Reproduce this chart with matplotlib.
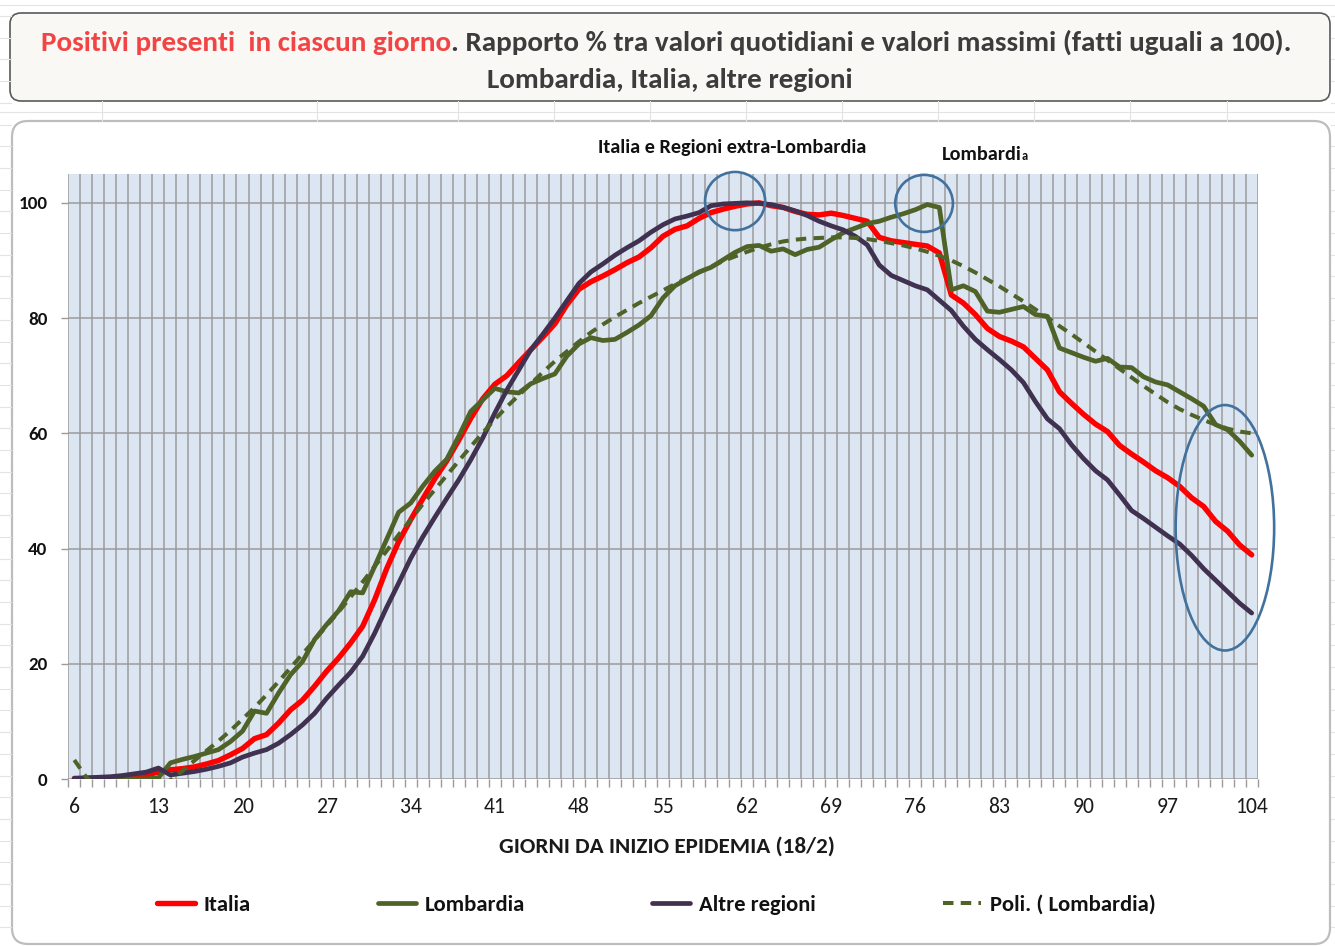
import matplotlib
matplotlib.use('Agg')
import matplotlib.pyplot as plt
from matplotlib import font_manager
from matplotlib.patches import FancyBboxPatch, Ellipse
from matplotlib.lines import Line2D
from matplotlib.transforms import IdentityTransform

# ---------------- data ----------------
days = list(range(6, 105))
italia = [0.1, 0.1, 0.2, 0.2, 0.3, 0.4, 0.7, 1.2, 1.6, 1.8,
          2.1, 2.6, 3.2, 4.2, 5.3, 7.0, 7.7, 9.7, 12.0, 13.7,
          16.1, 18.7, 21.0, 23.6, 26.5, 31.1, 36.5, 41.2, 45.0, 48.6,
          52.1, 55.2, 58.8, 62.6, 66.0, 68.5, 70.0, 72.3, 74.5, 76.7,
          79.0, 82.3, 85.0, 86.3, 87.3, 88.4, 89.6, 90.6, 92.2, 94.2,
          95.4, 96.0, 97.3, 98.3, 98.9, 99.4, 99.8, 100.0, 99.5, 99.2,
          98.5, 98.0, 97.9, 98.2, 97.8, 97.3, 96.8, 94.0, 93.4, 93.1,
          92.8, 92.5, 91.3, 84.0, 82.6, 80.6, 78.2, 76.8, 76.0, 75.0,
          73.0, 71.0, 67.2, 65.2, 63.3, 61.6, 60.3, 57.9, 56.4, 55.0,
          53.5, 52.3, 50.8, 48.8, 47.3, 44.7, 43.0, 40.6, 38.9]
lombardia = [0.0, 0.0, 0.0, 0.0, 0.0, 0.0, 0.0, 0.2, 2.8, 3.4,
             3.9, 4.5, 5.1, 6.5, 8.3, 11.8, 11.4, 14.9, 18.1, 20.4,
             24.2, 26.8, 29.2, 32.5, 32.3, 36.9, 41.6, 46.3, 47.9, 50.8,
             53.4, 55.5, 59.5, 63.8, 65.8, 67.8, 67.2, 67.0, 68.6, 69.5,
             70.3, 73.4, 75.5, 76.6, 76.1, 76.3, 77.5, 78.8, 80.4, 83.5,
             85.6, 86.8, 88.0, 88.8, 90.1, 91.4, 92.4, 92.6, 91.6, 92.0,
             91.0, 91.9, 92.3, 93.6, 94.8, 95.6, 96.4, 96.8, 97.5, 98.1,
             98.8, 99.7, 99.2, 84.9, 85.6, 84.6, 81.2, 81.0, 81.5, 82.0,
             80.6, 80.3, 74.8, 74.0, 73.2, 72.5, 73.0, 71.5, 71.4, 69.8,
             68.9, 68.4, 67.2, 66.0, 64.7, 61.5, 60.6, 58.6, 56.2]
altre_regioni = [0.1, 0.2, 0.3, 0.4, 0.6, 0.9, 1.2, 1.9, 0.7, 1.0,
                 1.3, 1.7, 2.2, 2.8, 3.8, 4.5, 5.1, 6.2, 7.7, 9.4,
                 11.4, 14.0, 16.3, 18.5, 21.3, 25.3, 29.8, 34.0, 38.3, 42.0,
                 45.4, 48.7, 51.9, 55.4, 59.2, 63.5, 67.5, 71.0, 74.5, 77.2,
                 80.0, 83.0, 86.0, 88.0, 89.4, 90.9, 92.2, 93.4, 94.9, 96.2,
                 97.2, 97.7, 98.3, 99.5, 99.8, 99.9, 100.0, 99.9, 99.7, 99.2,
                 98.6, 97.8, 96.8, 96.0, 95.3, 94.2, 92.7, 89.2, 87.4, 86.5,
                 85.6, 84.9, 83.1, 81.3, 78.6, 76.3, 74.5, 72.8, 71.0, 68.8,
                 65.5, 62.5, 60.8, 58.0, 55.6, 53.5, 51.9, 49.3, 46.6, 45.2,
                 43.7, 42.2, 40.8, 38.8, 36.5, 34.5, 32.5, 30.5, 28.8]
poli_lombardia = [3.3, 0.3, -1.5, -2.6, -3.0, -2.9, -2.3, -1.4, -0.2, 1.4,
                  3.2, 4.9, 6.6, 8.4, 10.4, 12.4, 14.6, 16.9, 19.3, 21.7,
                  24.1, 26.6, 29.0, 31.6, 34.2, 36.9, 39.6, 42.4, 45.0, 47.7,
                  50.2, 52.7, 55.2, 57.7, 60.1, 62.4, 64.6, 66.6, 68.6, 70.6,
                  72.5, 74.2, 75.9, 77.5, 78.9, 80.2, 81.4, 82.6, 83.7, 84.8,
                  85.9, 86.9, 87.9, 88.9, 89.9, 90.7, 91.5, 92.2, 92.8, 93.3,
                  93.6, 93.8, 93.9, 94.0, 94.0, 93.9, 93.7, 93.4, 93.0, 92.6,
                  92.1, 91.5, 90.8, 90.0, 89.0, 87.9, 86.7, 85.5, 84.2, 82.9,
                  81.5, 80.1, 78.6, 77.2, 75.7, 74.2, 72.7, 71.2, 69.7, 68.2,
                  66.8, 65.4, 64.2, 63.2, 62.3, 61.5, 60.8, 60.3, 60.0]
x_tick_days = list(range(6, 105, 7))
y_ticks = [0, 20, 40, 60, 80, 100]

series_names = ['Italia', 'Lombardia', 'Altre regioni', 'Poli. ( Lombardia)']
title_red = 'Positivi presenti  in ciascun giorno'
title_rest = '. Rapporto % tra valori quotidiani e valori massimi (fatti uguali a 100).'
title_line2 = 'Lombardia, Italia, altre regioni'
x_label = 'GIORNI DA INIZIO EPIDEMIA (18/2)'
note_italia = 'Italia e Regioni extra-Lombardia'

# ---------------- style ----------------
C_RED = '#ff0000'
C_GREEN = '#4f6228'
C_PURPLE = '#403151'
C_CIRCLE = '#41719c'
C_GRID = '#9b9b9b'
C_BG = '#dce6f2'


def pick_font():
    for fam in ['Carlito', 'Lato', 'Open Sans', 'DejaVu Sans']:
        try:
            font_manager.findfont(font_manager.FontProperties(family=fam),
                                  fallback_to_default=False)
            return fam
        except Exception:
            pass
    return 'DejaVu Sans'


FONT = pick_font()
plt.rcParams['font.family'] = [FONT, 'DejaVu Sans']

W, H = 1335, 946
fig = plt.figure(figsize=(W / 100, H / 100), dpi=100)
fig.patch.set_facecolor('white')
ident = IdentityTransform()


def fx(x):
    return x / W


def fy(y):
    return 1 - y / H


renderer = fig.canvas.get_renderer()


def wpx(t):
    return t.get_window_extent(renderer).width


def fitted_size(text, target_w, weight='normal', base=12.0):
    t = fig.text(0, 0, text, fontsize=base, fontweight=weight)
    w = wpx(t)
    t.remove()
    return base * target_w / w


# faint spreadsheet cell lines in the margins
for k in range(-20, 25):
    yy = 428.3 + 21.7 * k
    if 0 < yy < H:
        fig.add_artist(Line2D([0, 11], [H - yy, H - yy], transform=ident,
                              color='#e3e3e3', lw=0.8))
        fig.add_artist(Line2D([1331, W], [H - yy, H - yy], transform=ident,
                              color='#e3e3e3', lw=0.8))
fig.add_artist(Line2D([0, W], [H - 5, H - 5], transform=ident, color='#e3e3e3', lw=0.8))
fig.add_artist(Line2D([0, W], [H - 112, H - 112], transform=ident, color='#e3e3e3', lw=0.8))
for xx in [101.7, 317, 458, 554, 650, 746, 842, 938, 1034, 1130, 1227]:
    fig.add_artist(Line2D([xx, xx], [H - 101, H - 121], transform=ident,
                          color='#e3e3e3', lw=0.8))

# title box
fig.add_artist(FancyBboxPatch((10, H - 101), 1320, 88,
                              boxstyle='round,pad=0,rounding_size=11',
                              transform=ident, facecolor='#f9f8f4',
                              edgecolor='#5a5a5a', lw=1.2, zorder=1))
# chart box
fig.add_artist(FancyBboxPatch((12, H - 944), 1318, 823,
                              boxstyle='round,pad=0,rounding_size=16',
                              transform=ident, facecolor='white',
                              edgecolor='#bdbdbd', lw=1.6, zorder=1))

# title line 1 (two colours)
ta = fig.text(0, fy(51), title_red, color='#f24444', fontsize=20,
              fontweight='bold', va='baseline', ha='left', zorder=3)
tb = fig.text(0, fy(51), title_rest, color='#3c3c3c', fontsize=20,
              fontweight='bold', va='baseline', ha='left', zorder=3)
s = 20 * 1253 / (wpx(ta) + wpx(tb))
ta.set_fontsize(s)
tb.set_fontsize(s)
wa, wb = wpx(ta), wpx(tb)
x0 = 666.5 - (wa + wb) / 2
ta.set_x(fx(x0))
tb.set_x(fx(x0 + wa))

t2 = fig.text(fx(670), fy(88), title_line2, color='#3c3c3c', fontsize=s,
              fontweight='bold', va='baseline', ha='center', zorder=3)

# ---------------- axes ----------------
ax = fig.add_axes([fx(68.3), fy(779), 1189.4 / W, 605 / H])
ax.set_zorder(2)
ax.set_facecolor(C_BG)
ax.set_xlim(5.5, 104.5)
ax.set_ylim(0, 105)
for sp in ax.spines.values():
    sp.set_visible(False)

fs_x = fitted_size('104', 33, 'normal')
fs_y = fitted_size('100', 29, 'bold')

ax.set_xticks(x_tick_days)
ax.set_xticklabels([str(d) for d in x_tick_days])
ax.set_xticks([d + 0.5 for d in range(5, 105)], minor=True)
ax.set_yticks(y_ticks)
ax.set_yticklabels([str(v) for v in y_ticks], fontweight='bold')

ax.tick_params(axis='x', which='major', length=0, labelsize=fs_x, pad=13,
               labelcolor='#1a1a1a')
ax.tick_params(axis='x', which='minor', length=6, width=1.0, color=C_GRID,
               direction='out')
ax.tick_params(axis='y', which='major', length=5, width=1.0, color=C_GRID,
               labelsize=fs_y, pad=10, labelcolor='#111111')
ax.grid(True, axis='x', which='minor', color=C_GRID, lw=1.1)
ax.grid(True, axis='y', which='major', color=C_GRID, lw=1.1)
ax.grid(False, axis='x', which='major')
ax.set_axisbelow(True)

l_it, = ax.plot(days, italia, color=C_RED, lw=3.9, solid_capstyle='round',
                solid_joinstyle='round', label=series_names[0], zorder=3)
l_lo, = ax.plot(days, lombardia, color=C_GREEN, lw=3.4, solid_capstyle='round',
                solid_joinstyle='round', label=series_names[1], zorder=4)
l_al, = ax.plot(days, altre_regioni, color=C_PURPLE, lw=3.4,
                solid_capstyle='round', solid_joinstyle='round',
                label=series_names[2], zorder=5)
l_po, = ax.plot(days, poli_lombardia, color=C_GREEN, lw=2.9,
                dashes=(2.6, 1.8), dash_capstyle='butt',
                label=series_names[3], zorder=6)

# highlight circles
for (cx, cy, ew, eh) in [(61.0, 100.3, 5.0, 10.1), (76.73, 99.9, 4.8, 9.9),
                         (101.77, 43.6, 8.2, 42.6)]:
    ax.add_patch(Ellipse((cx, cy), ew, eh, fill=False, edgecolor=C_CIRCLE,
                         lw=1.9, clip_on=False, zorder=7))

# x label
ax.set_xlabel(x_label, fontweight='bold',
              fontsize=fitted_size(x_label, 335, 'bold'), color='#1a1a1a')
ax.xaxis.label.set_va('baseline')
ax.xaxis.set_label_coords((666.5 - 68.3) / 1189.4, (779 - 853) / 605)

# annotations above the plot
fs_note = fitted_size(note_italia, 269, 'bold')
n1 = fig.text(fx(732.5), fy(153.5), note_italia, fontweight='bold',
              fontsize=fs_note, color='#111111', ha='center', va='baseline',
              zorder=3)
n2 = fig.text(fx(941.7), fy(160), 'Lombardi', fontweight='bold',
              fontsize=fs_note, color='#111111', ha='left',
              va='baseline', zorder=3)
n3 = fig.text(fx(941.7 + wpx(n2) + 0.5), fy(160), 'a', fontweight='bold',
              fontsize=fs_note * 0.62, color='#111111', ha='left',
              va='baseline', zorder=3)

# legend
fs_leg = fitted_size('Lombardia', 100, 'bold')
em = fs_leg * 100 / 72
leg = fig.legend(handles=[l_it, l_lo, l_al, l_po], labels=series_names,
                 loc='center', bbox_to_anchor=(fx(656), fy(905)), ncol=4,
                 frameon=False, prop={'weight': 'bold', 'size': fs_leg},
                 handlelength=38 / em, handletextpad=9 / em,
                 columnspacing=127 / em)
for t in leg.get_texts():
    t.set_color('#111111')

fig.savefig('out.png', dpi=100, facecolor='white')
